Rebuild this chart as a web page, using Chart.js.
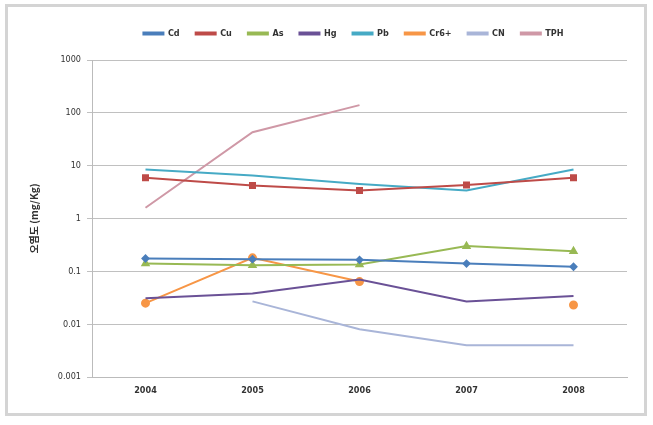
<!DOCTYPE html>
<html>
<head>
<meta charset="utf-8">
<script src="https://cdn.jsdelivr.net/npm/chart.js@4/dist/chart.umd.min.js"></script>
<style>
  html, body { margin: 0; padding: 0; background: #fff; }
  #frame { position: absolute; left: 5px; top: 4px; width: 636px; height: 406px; border: 3px solid #d4d4d4; }
  #wrap { position: absolute; left: 0; top: 0; width: 653px; height: 425px; }
</style>
</head>
<body>
<div id="frame"></div>
<div id="wrap"><canvas id="lineChart" width="653" height="425"></canvas></div>
<script>
// chart data
const years = ['2004', '2005', '2006', '2007', '2008'];
const cd   = [0.175, 0.17, 0.165, 0.14, 0.122];
const cu   = [5.9, 4.2, 3.4, 4.3, 5.9];
const as   = [0.14, 0.13, 0.135, 0.3, 0.24];
const hg   = [0.031, 0.038, 0.07, 0.027, 0.034];
const pb   = [8.5, 6.5, 4.5, 3.4, 8.5];
const cr6  = [0.025, 0.18, 0.064, null, 0.023];
const cn   = [null, 0.027, 0.008, 0.004, 0.004];
const tph  = [1.6, 43, 140, null, null];
const yTicks = [1000, 100, 10, 1, 0.1, 0.01, 0.001];

function series(label, data, color, shape, size) {
    return {
        label: label,
        data: data,
        borderColor: color,
        backgroundColor: color,
        borderWidth: 2,
        pointStyle: shape || 'line',
        pointRadius: shape ? size : 0,
        pointHoverRadius: shape ? size : 0,
        tension: 0
    };
}

// move the legend a bit (Excel puts it over the plot, not the canvas)
const legendShift = {
    id: 'legendShift',
    afterLayout: function (chart) {
        const lg = chart.legend;
        lg.left += 28; lg.right += 28;
        lg.top -= 12; lg.bottom -= 12;
    }
};

const ctx = document.getElementById('lineChart').getContext('2d');
new Chart(ctx, {
    type: 'line',
    data: {
        labels: years,
        datasets: [
            series('Cd', cd, '#4a7ebb', 'rectRot', 3),
            series('Cu', cu, '#be4b48', 'rect', 3.5),
            series('As', as, '#98b954', 'triangle', 3.5),
            series('Hg', hg, '#6a5196', null, 0),
            series('Pb', pb, '#46aac5', null, 0),
            series('Cr6+', cr6, '#f79646', 'circle', 3.5),
            series('CN', cn, '#a9b5d8', null, 0),
            series('TPH', tph, '#cf98a6', null, 0)
        ]
    },
    plugins: [legendShift],
    options: {
        responsive: false,
        animation: false,
        layout: { padding: { left: 24, right: 26, top: 25, bottom: 26 } },
        plugins: {
            legend: {
                position: 'top',
                labels: {
                    boxWidth: 20,
                    boxHeight: 2,
                    padding: 16,
                    color: '#333',
                    font: { family: 'Liberation Sans Narrow, DejaVu Sans Condensed, sans-serif', size: 9, weight: 'bold' }
                }
            },
            tooltip: { enabled: false }
        },
        scales: {
            x: {
                offset: true,
                afterFit: function (axis) { axis.height = 22; },
                grid: { display: false, drawTicks: false },
                border: { color: '#bbbbbb', width: 1 },
                ticks: {
                    color: '#333',
                    padding: 8,
                    font: { family: 'DejaVu Sans Condensed, sans-serif', size: 9, weight: 'bold' }
                }
            },
            y: {
                type: 'logarithmic',
                min: 0.001,
                max: 1000,
                afterBuildTicks: function (axis) {
                    axis.ticks = yTicks.map(function (v) { return { value: v }; });
                },
                afterFit: function (axis) { axis.width = 68; },
                grid: { color: '#c0c0c0', lineWidth: 1, tickLength: 5 },
                border: { color: '#bbbbbb', width: 1 },
                ticks: {
                    color: '#333',
                    padding: 6,
                    font: { family: 'DejaVu Sans Condensed, sans-serif', size: 9 },
                    callback: function (v) { return String(v); }
                },
                title: {
                    display: true,
                    text: '오염도 (mg/Kg)',
                    color: '#333',
                    font: { family: 'Noto Sans CJK KR, sans-serif', size: 10, weight: 'bold' }
                }
            }
        }
    }
});
</script>
</body>
</html>
